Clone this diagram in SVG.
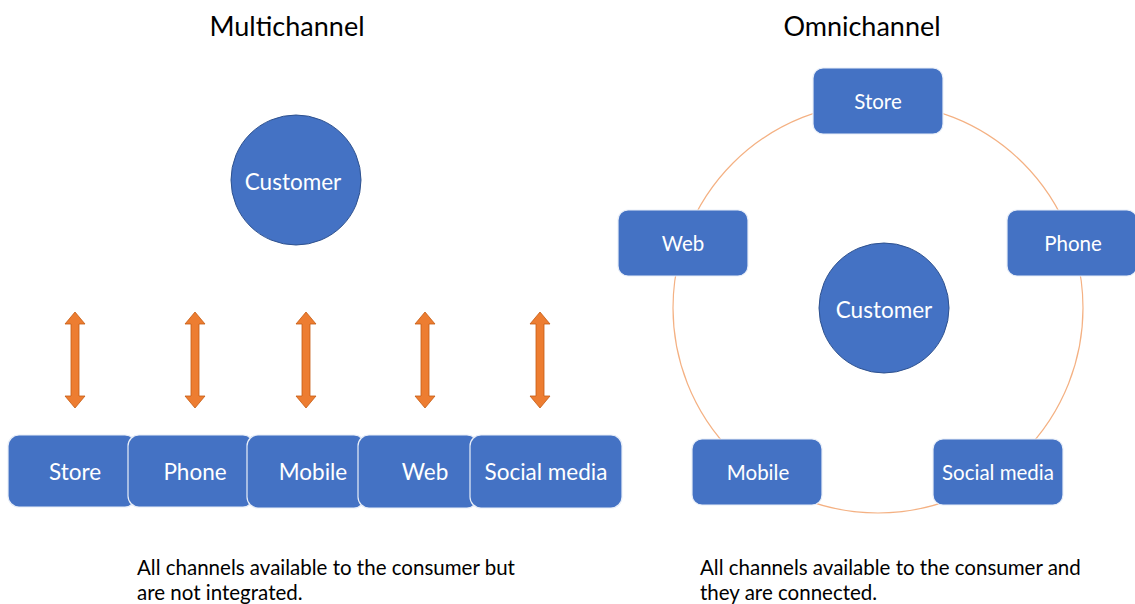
<svg xmlns="http://www.w3.org/2000/svg" width="1135" height="604" viewBox="0 0 1135 604">
<style>
.box{fill:#4472C4;stroke:#E8EEF8;stroke-width:1.2}
.cust{fill:#4472C4;stroke:#2F528F;stroke-width:1}
.lbl{font-family:Lato,"Liberation Sans",sans-serif;fill:#fff;text-anchor:middle;dominant-baseline:central}
.title{font-family:Lato,"Liberation Sans",sans-serif;fill:#000;font-size:27px;text-anchor:middle}
.note{font-family:Lato,"Liberation Sans",sans-serif;fill:#000;font-size:20.5px}
.arr{fill:#ED7D31;stroke:#C55A11;stroke-width:0.8}
.ring{fill:none;stroke:#F4B183;stroke-width:1.2}
</style>
<defs>
<path id="darr" d="M0,-48 L10,-36 L4,-36 L4,36 L10,36 L0,48 L-10,36 L-4,36 L-4,-36 L-10,-36 Z"/>
</defs>
<text class="title" x="287" y="36">Multichannel</text>
<text class="title" x="862" y="36">Omnichannel</text>
<g id="m-customer"><circle class="cust" cx="296" cy="180" r="65"/><text class="lbl" x="293" y="181" font-size="22.5">Customer</text></g>
<g id="connectors">
<use href="#darr" class="arr" x="75" y="360"/>
<use href="#darr" class="arr" x="195" y="360"/>
<use href="#darr" class="arr" x="306" y="360"/>
<use href="#darr" class="arr" x="425" y="360"/>
<use href="#darr" class="arr" x="540" y="360"/>
<circle class="ring" cx="878" cy="308" r="205"/>
</g>
<g id="m-store"><rect class="box" x="8" y="435" width="128" height="72" rx="11"/><text class="lbl" x="75" y="471" font-size="22.5">Store</text></g>
<g id="m-phone"><rect class="box" x="128" y="435" width="126" height="72" rx="11"/><text class="lbl" x="195" y="471" font-size="22.5">Phone</text></g>
<g id="m-mobile"><rect class="box" x="247" y="435" width="118" height="73" rx="11"/><text class="lbl" x="313" y="471" font-size="22.5">Mobile</text></g>
<g id="m-web"><rect class="box" x="358" y="435" width="120" height="73" rx="11"/><text class="lbl" x="425" y="471" font-size="22.5">Web</text></g>
<g id="m-social"><rect class="box" x="470" y="435" width="152" height="73" rx="11"/><text class="lbl" x="546" y="471" font-size="22.5">Social media</text></g>
<g id="o-store"><rect class="box" x="813" y="68" width="130" height="66" rx="10"/><text class="lbl" x="878" y="101" font-size="20.5">Store</text></g>
<g id="o-web"><rect class="box" x="618" y="210" width="130" height="66" rx="10"/><text class="lbl" x="683" y="243" font-size="20.5">Web</text></g>
<g id="o-phone"><rect class="box" x="1007" y="210" width="130" height="66" rx="10"/><text class="lbl" x="1073" y="243" font-size="20.5">Phone</text></g>
<g id="o-customer"><circle class="cust" cx="884" cy="308" r="65"/><text class="lbl" x="884" y="309" font-size="22.5">Customer</text></g>
<g id="o-mobile"><rect class="box" x="692" y="439" width="130" height="66" rx="10"/><text class="lbl" x="758" y="472" font-size="20.5">Mobile</text></g>
<g id="o-social"><rect class="box" x="933" y="439" width="130" height="66" rx="10"/><text class="lbl" x="998" y="472" font-size="20.5">Social media</text></g>
<text class="note" x="137" y="575">All channels available to the consumer but</text>
<text class="note" x="137" y="600">are not integrated.</text>
<text class="note" x="700" y="575">All channels available to the consumer and</text>
<text class="note" x="700" y="600">they are connected.</text>
</svg>
